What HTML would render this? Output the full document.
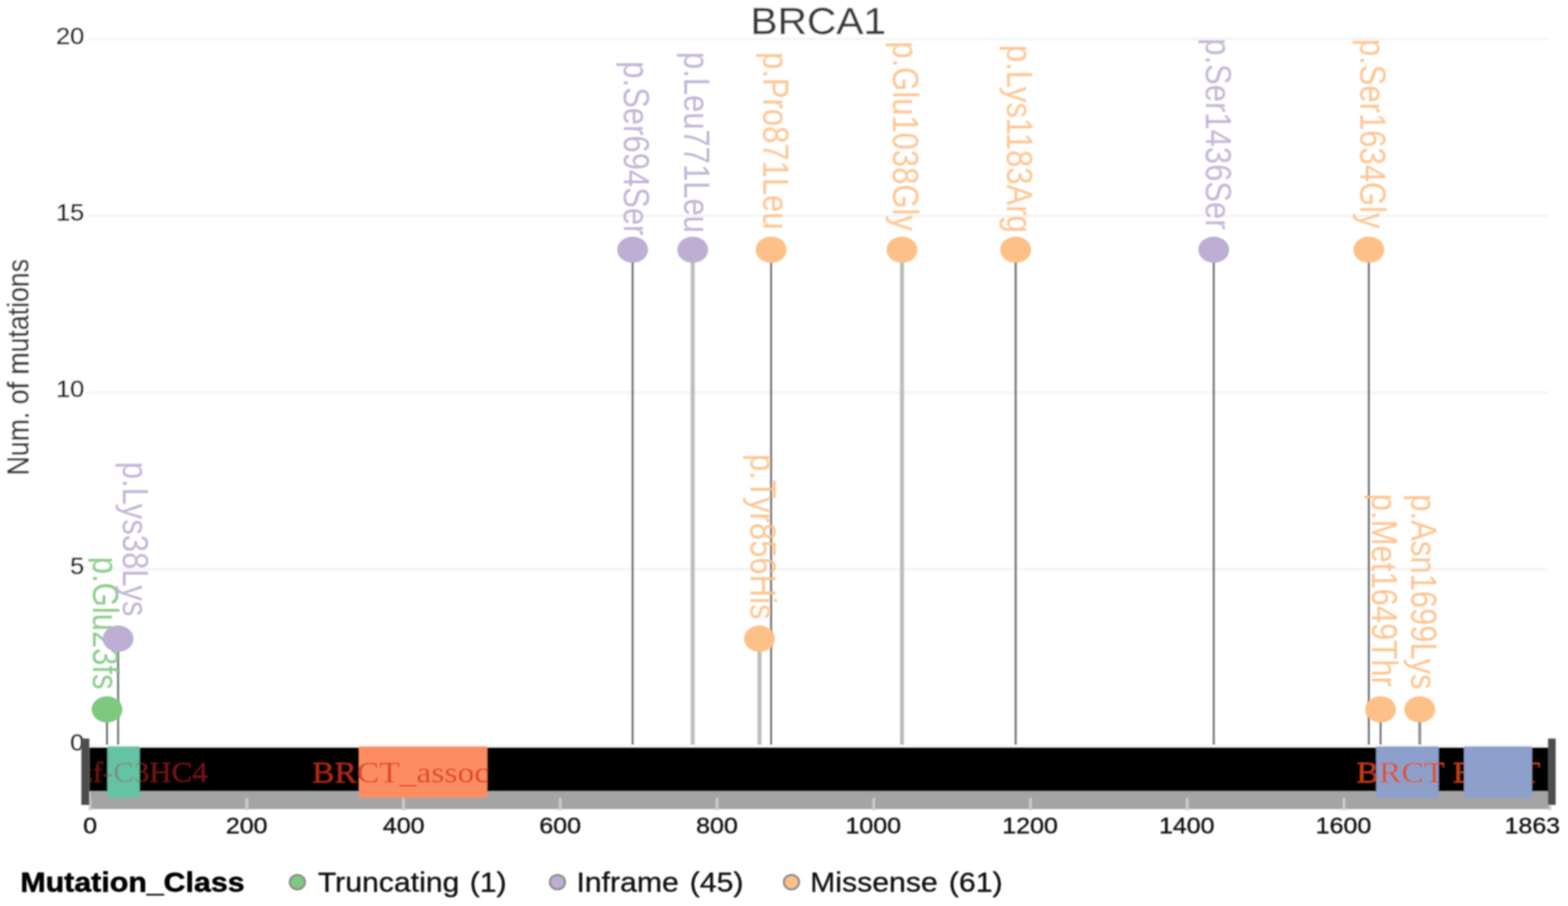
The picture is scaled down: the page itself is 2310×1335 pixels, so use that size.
<!DOCTYPE html>
<html lang="en"><head><meta charset="utf-8"><title>BRCA1 lollipop plot</title>
<style>html,body{margin:0;padding:0;background:#ffffff;overflow:hidden}svg{display:block}</style></head><body>
<svg width="2310" height="1335" viewBox="0 0 2310 1335">
<defs>
<filter id="soft" x="0" y="0" width="2310" height="1335" filterUnits="userSpaceOnUse"><feGaussianBlur stdDeviation="1.0"/></filter>
<filter id="soft2" x="0" y="0" width="2310" height="1335" filterUnits="userSpaceOnUse"><feGaussianBlur stdDeviation="0.8"/></filter>
<clipPath id="plotclip"><rect x="131.5" y="0" width="2149.5" height="1335"/></clipPath>
<clipPath id="labclip"><rect x="130.3" y="0" width="2310" height="1335"/></clipPath>
</defs>
<rect width="2310" height="1335" fill="#ffffff"/>
<g filter="url(#soft)">
<rect width="2310" height="1335" fill="#ffffff"/>
<rect x="131" y="55.4" width="2149.5" height="4" fill="#f5f5f5"/>
<rect x="131" y="316.0" width="2149.5" height="4" fill="#f5f5f5"/>
<rect x="131" y="576.5" width="2149.5" height="4" fill="#f5f5f5"/>
<rect x="131" y="836.5" width="2149.5" height="4" fill="#f5f5f5"/>
<rect x="131" y="1097.2" width="2149.5" height="4" fill="#f5f5f5"/>
<text transform="matrix(0.5993 0.0000 0.0000 0.5629 1105.56 50.20)" font-family='"Liberation Sans", Arial, Helvetica, sans-serif' font-size="100" fill="#3a3a3a" stroke="#3a3a3a" stroke-width="0.52" stroke-linejoin="round">BRCA1</text>
<text transform="matrix(0.0000 -0.3931 0.4490 0.0000 41.95 700.54)" font-family='"Liberation Sans", Arial, Helvetica, sans-serif' font-size="100" fill="#3a3a3a" stroke="#3a3a3a" stroke-width="1.2">Num. of mutations</text>
<text transform="matrix(0.3750 0.0000 0.0000 0.3580 82.38 64.51)" font-family='"Liberation Sans", Arial, Helvetica, sans-serif' font-size="100" fill="#0c0c0c" stroke="#0c0c0c" stroke-width="1.23" stroke-linejoin="round">20</text>
<text transform="matrix(0.3750 0.0000 0.0000 0.3580 82.47 325.01)" font-family='"Liberation Sans", Arial, Helvetica, sans-serif' font-size="100" fill="#0c0c0c" stroke="#0c0c0c" stroke-width="1.23" stroke-linejoin="round">15</text>
<text transform="matrix(0.3750 0.0000 0.0000 0.3580 82.38 585.46)" font-family='"Liberation Sans", Arial, Helvetica, sans-serif' font-size="100" fill="#0c0c0c" stroke="#0c0c0c" stroke-width="1.23" stroke-linejoin="round">10</text>
<text transform="matrix(0.3750 0.0000 0.0000 0.3580 103.29 845.91)" font-family='"Liberation Sans", Arial, Helvetica, sans-serif' font-size="100" fill="#0c0c0c" stroke="#0c0c0c" stroke-width="1.23" stroke-linejoin="round">5</text>
<text transform="matrix(0.3750 0.0000 0.0000 0.3580 103.19 1106.36)" font-family='"Liberation Sans", Arial, Helvetica, sans-serif' font-size="100" fill="#0c0c0c" stroke="#0c0c0c" stroke-width="1.23" stroke-linejoin="round">0</text>
</g>
<g filter="url(#soft2)">
<rect x="156.20" y="1045.3" width="2.8" height="51.7" fill="#6c6c6c"/>
<rect x="172.60" y="941.1" width="2.8" height="155.9" fill="#6c6c6c"/>
<rect x="930.60" y="368.0" width="2.8" height="729.0" fill="#6c6c6c"/>
<rect x="1017.50" y="368.0" width="6" height="729.0" fill="#bdbdbd"/>
<rect x="1115.90" y="941.1" width="6" height="155.9" fill="#bdbdbd"/>
<rect x="1134.60" y="368.0" width="2.8" height="729.0" fill="#6c6c6c"/>
<rect x="1325.80" y="368.0" width="6" height="729.0" fill="#bdbdbd"/>
<rect x="1494.90" y="368.0" width="2.8" height="729.0" fill="#6c6c6c"/>
<rect x="1786.70" y="368.0" width="2.8" height="729.0" fill="#6c6c6c"/>
<rect x="2015.20" y="368.0" width="2.8" height="729.0" fill="#6c6c6c"/>
<rect x="2032.50" y="1045.3" width="2.8" height="51.7" fill="#6c6c6c"/>
<rect x="2089.50" y="1045.3" width="4.2" height="51.7" fill="#8e8e8e"/>
</g>
<g filter="url(#soft)">
<g clip-path="url(#labclip)"><text transform="matrix(0.0000 0.4570 -0.5300 0.0000 136.59 820.52)" font-family='"Liberation Sans", Arial, Helvetica, sans-serif' font-size="100" fill="#7fc97f" fill-opacity="0.9">p.Glu23fs</text></g>
<g clip-path="url(#labclip)"><text transform="matrix(0.0000 0.4570 -0.5300 0.0000 180.62 680.51)" font-family='"Liberation Sans", Arial, Helvetica, sans-serif' font-size="100" fill="#beaed4" fill-opacity="0.9">p.Lys38Lys</text></g>
<g clip-path="url(#labclip)"><text transform="matrix(0.0000 0.4570 -0.5300 0.0000 919.41 90.30)" font-family='"Liberation Sans", Arial, Helvetica, sans-serif' font-size="100" fill="#beaed4" fill-opacity="0.9">p.Ser694Ser</text></g>
<g clip-path="url(#labclip)"><text transform="matrix(0.0000 0.4570 -0.5300 0.0000 1008.38 76.51)" font-family='"Liberation Sans", Arial, Helvetica, sans-serif' font-size="100" fill="#beaed4" fill-opacity="0.9">p.Leu771Leu</text></g>
<g clip-path="url(#labclip)"><text transform="matrix(0.0000 0.4570 -0.5300 0.0000 1105.39 669.01)" font-family='"Liberation Sans", Arial, Helvetica, sans-serif' font-size="100" fill="#fdc086" fill-opacity="0.9">p.Tyr856His</text></g>
<g clip-path="url(#labclip)"><text transform="matrix(0.0000 0.4570 -0.5300 0.0000 1124.17 76.68)" font-family='"Liberation Sans", Arial, Helvetica, sans-serif' font-size="100" fill="#fdc086" fill-opacity="0.9">p.Pro871Leu</text></g>
<g clip-path="url(#labclip)"><text transform="matrix(0.0000 0.4570 -0.5300 0.0000 1315.39 60.84)" font-family='"Liberation Sans", Arial, Helvetica, sans-serif' font-size="100" fill="#fdc086" fill-opacity="0.9">p.Glu1038Gly</text></g>
<g clip-path="url(#labclip)"><text transform="matrix(0.0000 0.4570 -0.5300 0.0000 1483.32 66.18)" font-family='"Liberation Sans", Arial, Helvetica, sans-serif' font-size="100" fill="#fdc086" fill-opacity="0.9">p.Lys1183Arg</text></g>
<g clip-path="url(#labclip)"><text transform="matrix(0.0000 0.4570 -0.5300 0.0000 1776.17 56.37)" font-family='"Liberation Sans", Arial, Helvetica, sans-serif' font-size="100" fill="#beaed4" fill-opacity="0.9">p.Ser1436Ser</text></g>
<g clip-path="url(#labclip)"><text transform="matrix(0.0000 0.4570 -0.5300 0.0000 2003.69 57.34)" font-family='"Liberation Sans", Arial, Helvetica, sans-serif' font-size="100" fill="#fdc086" fill-opacity="0.9">p.Ser1634Gly</text></g>
<g clip-path="url(#labclip)"><text transform="matrix(0.0000 0.4570 -0.5300 0.0000 2021.09 727.62)" font-family='"Liberation Sans", Arial, Helvetica, sans-serif' font-size="100" fill="#fdc086" fill-opacity="0.9">p.Met1649Thr</text></g>
<g clip-path="url(#labclip)"><text transform="matrix(0.0000 0.4570 -0.5300 0.0000 2079.07 728.31)" font-family='"Liberation Sans", Arial, Helvetica, sans-serif' font-size="100" fill="#fdc086" fill-opacity="0.9">p.Asn1699Lys</text></g>
<ellipse cx="157.60" cy="1045.3" rx="22.7" ry="19.3" fill="#7fc97f"/>
<ellipse cx="174.00" cy="941.1" rx="22.7" ry="19.3" fill="#beaed4"/>
<ellipse cx="932.00" cy="368.0" rx="22.7" ry="19.3" fill="#beaed4"/>
<ellipse cx="1020.50" cy="368.0" rx="22.7" ry="19.3" fill="#beaed4"/>
<ellipse cx="1118.90" cy="941.1" rx="22.7" ry="19.3" fill="#fdc086"/>
<ellipse cx="1136.00" cy="368.0" rx="22.7" ry="19.3" fill="#fdc086"/>
<ellipse cx="1328.80" cy="368.0" rx="22.7" ry="19.3" fill="#fdc086"/>
<ellipse cx="1496.30" cy="368.0" rx="22.7" ry="19.3" fill="#fdc086"/>
<ellipse cx="1788.10" cy="368.0" rx="22.7" ry="19.3" fill="#beaed4"/>
<ellipse cx="2016.60" cy="368.0" rx="22.7" ry="19.3" fill="#fdc086"/>
<ellipse cx="2033.90" cy="1045.3" rx="22.7" ry="19.3" fill="#fdc086"/>
<ellipse cx="2091.60" cy="1045.3" rx="22.7" ry="19.3" fill="#fdc086"/>
<rect x="133" y="1165" width="2150.5" height="27.200000000000045" fill="#a4a4a4"/>
<rect x="131.5" y="1101.8" width="2149.5" height="64.20000000000005" fill="#000"/>
<rect x="130.70" y="1176" width="4" height="18" fill="#c8cdd0"/>
<rect x="361.60" y="1176" width="4" height="18" fill="#c8cdd0"/>
<rect x="592.50" y="1176" width="4" height="18" fill="#c8cdd0"/>
<rect x="823.40" y="1176" width="4" height="18" fill="#c8cdd0"/>
<rect x="1054.30" y="1176" width="4" height="18" fill="#c8cdd0"/>
<rect x="1285.20" y="1176" width="4" height="18" fill="#c8cdd0"/>
<rect x="1516.10" y="1176" width="4" height="18" fill="#c8cdd0"/>
<rect x="1747.00" y="1176" width="4" height="18" fill="#c8cdd0"/>
<rect x="1977.90" y="1176" width="4" height="18" fill="#c8cdd0"/>
<rect x="2281.30" y="1176" width="4" height="18" fill="#c8cdd0"/>
<rect x="158.4" y="1100" width="47.2" height="75.5" fill="#66c2a5"/>
<g clip-path="url(#plotclip)"><text transform="matrix(0.4555 0.0000 0.0000 0.4213 116.25 1151.79)" font-family='"Liberation Serif", "Times New Roman", serif' font-size="100" fill="#a01f22" fill-opacity="0.68">zf-C3HC4</text></g>
<rect x="158.4" y="1100" width="47.2" height="75.5" fill="#66c2a5" fill-opacity="0.55"/>
<rect x="529" y="1100" width="188.7" height="75.5" fill="#fc8d62"/>
<g clip-path="url(#plotclip)"><text transform="matrix(0.4945 0.0000 0.0000 0.4471 459.72 1152.89)" font-family='"Liberation Serif", "Times New Roman", serif' font-size="100" fill="#d6361a" fill-opacity="0.78">BRCT_assoc</text></g>
<rect x="2027.4" y="1100" width="92.1" height="75.5" fill="#8da0cb"/>
<g clip-path="url(#plotclip)"><text transform="matrix(0.4979 0.0000 0.0000 0.4471 1998.21 1152.89)" font-family='"Liberation Serif", "Times New Roman", serif' font-size="100" fill="#e2461b" fill-opacity="0.85">BRCT</text></g>
<rect x="2157" y="1100" width="99.7" height="75.5" fill="#8da0cb"/>
<g clip-path="url(#plotclip)"><text transform="matrix(0.4932 0.0000 0.0000 0.4471 2140.32 1152.89)" font-family='"Liberation Serif", "Times New Roman", serif' font-size="100" fill="#e2461b" fill-opacity="0.85">BRCT</text></g>
<rect x="2157" y="1100" width="99.7" height="75.5" fill="#8da0cb" fill-opacity="1"/>
<rect x="119.8" y="1088.3" width="11.799999999999997" height="97.70000000000005" fill="#4d4d4d"/>
<rect x="2280.6" y="1088.3" width="11.200000000000273" height="97.70000000000005" fill="#4d4d4d"/>
<text transform="matrix(0.3680 0.0000 0.0000 0.3400 122.44 1228.44)" font-family='"Liberation Sans", Arial, Helvetica, sans-serif' font-size="100" fill="#0c0c0c" stroke="#0c0c0c" stroke-width="1.27" stroke-linejoin="round">0</text>
<text transform="matrix(0.3680 0.0000 0.0000 0.3400 332.69 1228.44)" font-family='"Liberation Sans", Arial, Helvetica, sans-serif' font-size="100" fill="#0c0c0c" stroke="#0c0c0c" stroke-width="1.27" stroke-linejoin="round">200</text>
<text transform="matrix(0.3680 0.0000 0.0000 0.3400 564.09 1228.44)" font-family='"Liberation Sans", Arial, Helvetica, sans-serif' font-size="100" fill="#0c0c0c" stroke="#0c0c0c" stroke-width="1.27" stroke-linejoin="round">400</text>
<text transform="matrix(0.3680 0.0000 0.0000 0.3400 794.49 1228.44)" font-family='"Liberation Sans", Arial, Helvetica, sans-serif' font-size="100" fill="#0c0c0c" stroke="#0c0c0c" stroke-width="1.27" stroke-linejoin="round">600</text>
<text transform="matrix(0.3680 0.0000 0.0000 0.3400 1025.53 1228.44)" font-family='"Liberation Sans", Arial, Helvetica, sans-serif' font-size="100" fill="#0c0c0c" stroke="#0c0c0c" stroke-width="1.27" stroke-linejoin="round">800</text>
<text transform="matrix(0.3680 0.0000 0.0000 0.3400 1245.62 1228.44)" font-family='"Liberation Sans", Arial, Helvetica, sans-serif' font-size="100" fill="#0c0c0c" stroke="#0c0c0c" stroke-width="1.27" stroke-linejoin="round">1000</text>
<text transform="matrix(0.3680 0.0000 0.0000 0.3400 1476.52 1228.44)" font-family='"Liberation Sans", Arial, Helvetica, sans-serif' font-size="100" fill="#0c0c0c" stroke="#0c0c0c" stroke-width="1.27" stroke-linejoin="round">1200</text>
<text transform="matrix(0.3680 0.0000 0.0000 0.3400 1707.42 1228.44)" font-family='"Liberation Sans", Arial, Helvetica, sans-serif' font-size="100" fill="#0c0c0c" stroke="#0c0c0c" stroke-width="1.27" stroke-linejoin="round">1400</text>
<text transform="matrix(0.3680 0.0000 0.0000 0.3400 1938.32 1228.44)" font-family='"Liberation Sans", Arial, Helvetica, sans-serif' font-size="100" fill="#0c0c0c" stroke="#0c0c0c" stroke-width="1.27" stroke-linejoin="round">1600</text>
<text transform="matrix(0.3680 0.0000 0.0000 0.3400 2216.51 1228.44)" font-family='"Liberation Sans", Arial, Helvetica, sans-serif' font-size="100" fill="#0c0c0c" stroke="#0c0c0c" stroke-width="1.27" stroke-linejoin="round">1863</text>
<text transform="matrix(0.4470 0.0000 0.0000 0.4073 30.08 1313.50)" font-family='"Liberation Sans", Arial, Helvetica, sans-serif' font-size="100" font-weight="bold" fill="#000" stroke="#000" stroke-width="1.87" stroke-linejoin="round">Mutation_Class</text>
<ellipse cx="438.1" cy="1299.8" rx="11.3" ry="10.6" fill="#7fc97f" stroke="#8c8c8c" stroke-width="3"/>
<text transform="matrix(0.4450 0 0 0.4073 468.30 1313.50)" font-family='"Liberation Sans", Arial, Helvetica, sans-serif' font-size="100" fill="#0a0a0a" stroke="#0a0a0a" stroke-width="0.94" stroke-linejoin="round"><tspan>Truncating</tspan> <tspan x="502.7">(1)</tspan></text>
<ellipse cx="821.3" cy="1299.8" rx="11.3" ry="10.6" fill="#beaed4" stroke="#8c8c8c" stroke-width="3"/>
<text transform="matrix(0.4450 0 0 0.4073 849.18 1313.50)" font-family='"Liberation Sans", Arial, Helvetica, sans-serif' font-size="100" fill="#0a0a0a" stroke="#0a0a0a" stroke-width="0.94" stroke-linejoin="round"><tspan>Inframe</tspan> <tspan x="375.1">(45)</tspan></text>
<ellipse cx="1166" cy="1299.8" rx="11.3" ry="10.6" fill="#fdc086" stroke="#8c8c8c" stroke-width="3"/>
<text transform="matrix(0.4450 0 0 0.4073 1193.53 1313.50)" font-family='"Liberation Sans", Arial, Helvetica, sans-serif' font-size="100" fill="#0a0a0a" stroke="#0a0a0a" stroke-width="0.94" stroke-linejoin="round"><tspan>Missense</tspan> <tspan x="459.2">(61)</tspan></text>
</g>
</svg>
</body></html>
